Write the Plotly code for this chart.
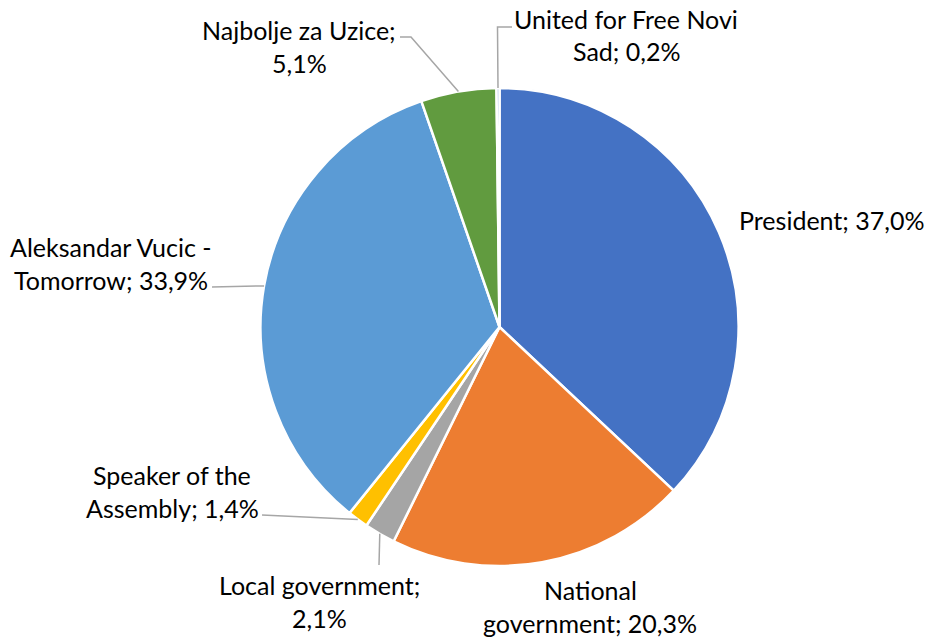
import math
import plotly.graph_objects as go

# ---- data ----
labels = ["President", "National government", "Local government",
          "Speaker of the Assembly", "Aleksandar Vucic - Tomorrow",
          "Najbolje za Uzice", "United for Free Novi Sad"]
values = [37.0, 20.3, 2.1, 1.4, 33.9, 5.1, 0.2]
label_lines = [["President; 37,0%"],
               ["National", "government; 20,3%"],
               ["Local government;", "2,1%"],
               ["Speaker of the", "Assembly; 1,4%"],
               ["Aleksandar Vucic -", "Tomorrow; 33,9%"],
               ["Najbolje za Uzice;", "5,1%"],
               ["United for Free Novi", "Sad; 0,2%"]]
colors = ["#4472C4", "#ED7D31", "#A5A5A5", "#FFC000", "#5B9BD5", "#619B3F", "#8FAADC"]

# ---- layout constants (pixels) ----
W, H = 931, 640
CX, CY, R = 499.5, 327.0, 239.0
LINE_H = 32.5
# text centre x, first-line centre y, leader path points after the edge point
label_pos = [
    (831, 220, None),
    (590, 590, None),
    (319, 585, [(379, 565)]),
    (172, 475, [(262, 515)]),
    (111, 247, [(212, 287)]),
    (299, 30, [(411, 37), (400, 37)]),
    (626, 19, [(497.5, 27), (512, 27)]),
]

def px(x):
    return x / W

def py(y):
    return 1 - y / H

fig = go.Figure(go.Pie(
    labels=labels, values=values, sort=False, direction="clockwise",
    rotation=0, marker=dict(colors=colors, line=dict(color="white", width=2.5)),
    textinfo="none", hoverinfo="label+percent", showlegend=False,
    domain=dict(x=[px(CX - R), px(CX + R)], y=[py(CY + R), py(CY - R)]),
))

total = sum(values)
cum = 0.0
annotations = []
shapes = []
for v, lines, (tx, ty, leader) in zip(values, label_lines, label_pos):
    mid = (cum + v / 2) / total * 2 * math.pi
    cum += v
    ex = CX + R * math.sin(mid)
    ey = CY - R * math.cos(mid)
    for i, ln in enumerate(lines):
        annotations.append(dict(x=px(tx), y=py(ty + i * LINE_H), xref="paper", yref="paper",
                                text=ln, showarrow=False, xanchor="center",
                                yanchor="middle", align="center",
                                font=dict(family="Lato, Carlito, Calibri, sans-serif",
                                          size=25, color="#000000")))
    if leader:
        pts = [(ex, ey)] + leader
        path = "M " + " L ".join(f"{px(a):.5f},{py(b):.5f}" for a, b in pts)
        shapes.append(dict(type="path", path=path, xref="paper", yref="paper",
                           line=dict(color="#A6A6A6", width=1.5)))

fig.update_layout(width=W, height=H, margin=dict(l=0, r=0, t=0, b=0),
                  paper_bgcolor="white", plot_bgcolor="white",
                  annotations=annotations, shapes=shapes)
fig.write_html("out.html", config={"displayModeBar": False},
               post_script="document.body.style.margin='0px';")
